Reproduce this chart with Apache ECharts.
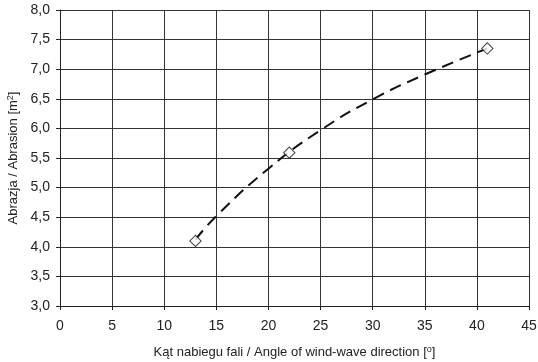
<!DOCTYPE html>
<html>
<head>
<meta charset="utf-8">
<script src="https://cdn.jsdelivr.net/npm/echarts@6/dist/echarts.min.js"></script>
<style>
  html, body { margin: 0; padding: 0; background: #fff; }
  #main { width: 538px; height: 362px; }
</style>
</head>
<body>
<div id="main"></div>
<script>
// measured points
var angles = [13, 22, 41];
var abrasion = [4.1, 5.59, 7.35];
// dashed trend curve
var trendX = [13, 15, 20, 25, 30, 35, 41];
var trendY = [4.12, 4.52, 5.32, 5.97, 6.49, 6.91, 7.35];

var chartDom = document.getElementById("main");
var myChart = echarts.init(chartDom);

var font = "Liberation Sans";

var option = {
  animation: false,
  textStyle: { fontFamily: font },
  grid: { left: 60, right: 9, top: 10, bottom: 56, outerBoundsMode: "none" },
  xAxis: {
    type: "value",
    min: 0,
    max: 45,
    interval: 5,
    name: "{t|Kąt nabiegu fali / Angle of wind-wave direction [}{s|o}{t|]}",
    nameLocation: "middle",
    nameGap: 39,
    nameTextStyle: {
      rich: {
        t: { fontFamily: font, fontSize: 13, color: "#222" },
        s: { fontFamily: font, fontSize: 9, color: "#222", verticalAlign: "top", padding: [0, 0, 6, 0] }
      }
    },
    axisLine: { lineStyle: { color: "#222", width: 1 } },
    axisTick: { show: true, length: 4, lineStyle: { color: "#222" } },
    axisLabel: { fontFamily: font, fontSize: 14, color: "#222", margin: 13 },
    splitLine: { show: true, lineStyle: { color: "#333", width: 1 } }
  },
  yAxis: {
    type: "value",
    min: 3,
    max: 8,
    interval: 0.5,
    name: "{t|Abrazja / Abrasion [m}{s|2}{t|]}",
    nameLocation: "middle",
    nameGap: 38,
    nameTextStyle: {
      rich: {
        t: { fontFamily: font, fontSize: 13, color: "#222" },
        s: { fontFamily: font, fontSize: 9, color: "#222", verticalAlign: "top", padding: [0, 0, 6, 0] }
      }
    },
    axisLine: { show: true, lineStyle: { color: "#222", width: 1 } },
    axisTick: { show: true, length: 4, lineStyle: { color: "#222" } },
    axisLabel: {
      fontFamily: font,
      fontSize: 14,
      color: "#222",
      margin: 10,
      formatter: function (v) { return v.toFixed(1).replace(".", ","); }
    },
    splitLine: { show: true, lineStyle: { color: "#333", width: 1 } }
  },
  series: [
    {
      name: "trend",
      type: "line",
      smooth: true,
      symbol: "none",
      data: trendX.map(function (x, i) { return [x, trendY[i]]; }),
      lineStyle: { color: "#111", width: 2, type: [12, 7] },
      z: 2
    },
    {
      name: "Abrasion",
      type: "scatter",
      symbol: "rect",
      symbolRotate: 45,
      symbolSize: 8,
      data: angles.map(function (x, i) { return [x, abrasion[i]]; }),
      itemStyle: { color: "#fff", borderColor: "#111", borderWidth: 1 },
      z: 3
    }
  ]
};

option && myChart.setOption(option);
</script>
</body>
</html>
